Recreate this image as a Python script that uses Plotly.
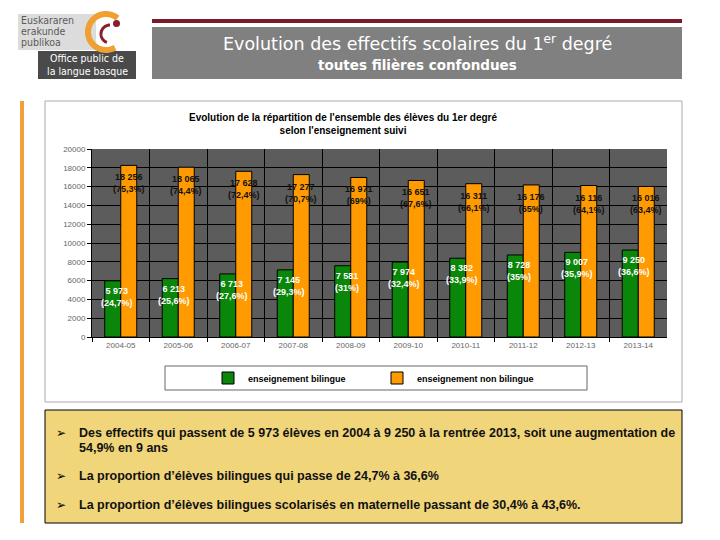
import math
import plotly.graph_objects as go

# ---------------- data ----------------
categories = ["2004-05", "2005-06", "2006-07", "2007-08", "2008-09",
              "2009-10", "2010-11", "2011-12", "2012-13", "2013-14"]
bilingue = [5973, 6213, 6713, 7145, 7581, 7974, 8382, 8728, 9007, 9250]
non_bilingue = [18256, 18065, 17628, 17277, 16971, 16651, 16311, 16176, 16116, 16016]
pct_bilingue = ["24,7%", "25,6%", "27,6%", "29,3%", "31%",
                "32,4%", "33,9%", "35%", "35,9%", "36,6%"]
pct_non_bilingue = ["75,3%", "74,4%", "72,4%", "70,7%", "69%",
                    "67,6%", "66,1%", "65%", "64,1%", "63,4%"]
y_ticks = [0, 2000, 4000, 6000, 8000, 10000, 12000, 14000, 16000, 18000, 20000]

bullet_lines = [
    ("Des effectifs qui passent de 5 973 élèves en 2004 à 9 250 à la rentrée 2013, soit une augmentation de", True),
    ("54,9% en 9 ans", False),
    ("La proportion d’élèves bilingues qui passe de 24,7% à 36,6%", True),
    ("La proportion d’élèves bilingues scolarisés en maternelle passant de 30,4% à 43,6%.", True),
]
bullet_y = [433, 448, 476, 505]

# page body has an 8px margin: figure is drawn 8px in from the window corner
OFF = 8
W, H = 720 - 2 * OFF, 540 - 2 * OFF


def X(px):
    return (px - OFF) / W


def Y(py):
    return 1 - (py - OFF) / H


def fmt(v):
    return f"{v:,}".replace(",", " ")


GREEN = "#0a870a"
ORANGE = "#ff9a00"
FONT = "Liberation Sans, Arial, sans-serif"
HFONT = "DejaVu Sans, sans-serif"
LFONT = "DejaVu Sans Condensed, DejaVu Sans, sans-serif"

fig = go.Figure()
fig.add_trace(go.Bar(x=categories, y=bilingue, name="<b>enseignement bilingue</b>",
                     marker=dict(color=GREEN, line=dict(color="black", width=1))))
fig.add_trace(go.Bar(x=categories, y=non_bilingue, name="<b>enseignement non bilingue</b>",
                     marker=dict(color=ORANGE, line=dict(color="black", width=1))))

annotations = []
for c, v, p in zip(categories, non_bilingue, pct_non_bilingue):
    annotations.append(dict(x=c, y=v, xref="x", yref="y", text=f"<b>{fmt(v)}<br>({p})</b>",
                            showarrow=False, xshift=8, yshift=-5, yanchor="top",
                            font=dict(family=FONT, size=9, color="#111111")))
for c, v, p in zip(categories, bilingue, pct_bilingue):
    annotations.append(dict(x=c, y=v, xref="x", yref="y", text=f"<b>{fmt(v)}<br>({p})</b>",
                            showarrow=False, xshift=-4, yshift=-3, yanchor="top",
                            font=dict(family=FONT, size=9, color="white")))

# chart title
annotations.append(dict(x=X(343), y=Y(124), xref="paper", yref="paper",
                        text="<b>Evolution de la répartition de l'ensemble des élèves du 1er degré<br>selon l'enseignement suivi</b>",
                        showarrow=False, align="center", xanchor="center", yanchor="middle",
                        font=dict(family=FONT, size=10, color="black")))

# header title
annotations.append(dict(x=X(417), y=Y(43), xref="paper", yref="paper",
                        text="Evolution des effectifs scolaires du 1<sup>er</sup> degré",
                        showarrow=False, xanchor="center", yanchor="middle",
                        font=dict(family=HFONT, size=17.5, color="white")))
annotations.append(dict(x=X(417), y=Y(65), xref="paper", yref="paper",
                        text="<b>toutes filières confondues</b>",
                        showarrow=False, xanchor="center", yanchor="middle",
                        font=dict(family=HFONT, size=13.5, color="white")))

# logo text
for i, t in enumerate(["Euskararen", "erakunde", "publikoa"]):
    annotations.append(dict(x=X(19), y=Y(20 + 11 * i), xref="paper", yref="paper", text=t,
                            showarrow=False, xanchor="left", yanchor="middle",
                            font=dict(family=LFONT, size=10.5, color="#5a5a5a")))
for i, t in enumerate(["Office public de", "la langue basque"]):
    annotations.append(dict(x=X(87), y=Y(58 + 13 * i), xref="paper", yref="paper", text=t,
                            showarrow=False, xanchor="center", yanchor="middle",
                            font=dict(family=LFONT, size=10.5, color="white")))

# bullet text
for (t, has_bullet), by in zip(bullet_lines, bullet_y):
    if has_bullet:
        annotations.append(dict(x=X(54), y=Y(by), xref="paper", yref="paper",
                                text="➢", showarrow=False, xanchor="left", yanchor="middle",
                                font=dict(family="DejaVu Sans", size=12, color="black")))
    annotations.append(dict(x=X(77), y=Y(by), xref="paper", yref="paper", text=f"<b>{t}</b>",
                            showarrow=False, xanchor="left", yanchor="middle", align="left",
                            font=dict(family=FONT, size=12.5, color="#111111")))

shapes = [
    # maroon line
    dict(type="rect", xref="paper", yref="paper", x0=X(152), x1=X(682), y0=Y(19), y1=Y(23),
         fillcolor="#7a1a2c", line=dict(width=0)),
    # gray title box
    dict(type="rect", xref="paper", yref="paper", x0=X(152), x1=X(682), y0=Y(27), y1=Y(79),
         fillcolor="#808080", line=dict(width=0)),
    # logo boxes
    dict(type="rect", xref="paper", yref="paper", x0=X(18), x1=X(96), y0=Y(14), y1=Y(50),
         fillcolor="#dcdcdc", line=dict(width=0)),
    dict(type="rect", xref="paper", yref="paper", x0=X(38), x1=X(136), y0=Y(51), y1=Y(79),
         fillcolor="#4a4a4a", line=dict(width=0)),
    # orange vertical bar
    dict(type="rect", xref="paper", yref="paper", x0=X(20), x1=X(24), y0=Y(101), y1=Y(523),
         fillcolor="#f2a03c", line=dict(width=0)),
    # chart outer box
    dict(type="rect", xref="paper", yref="paper", x0=X(45), x1=X(682), y0=Y(101), y1=Y(402),
         fillcolor="rgba(0,0,0,0)", line=dict(color="#aaaaaa", width=1)),
    # legend box
    dict(type="rect", xref="paper", yref="paper", x0=X(165), x1=X(587), y0=Y(366), y1=Y(390),
         fillcolor="white", line=dict(color="#666666", width=1)),
    # yellow box
    dict(type="rect", xref="paper", yref="paper", x0=X(45), x1=X(682), y0=Y(410), y1=Y(523),
         fillcolor="#f0d57a", line=dict(color="black", width=1)),
]


def arc(cx, cy, r, a0, a1, n=40):
    pts = []
    for k in range(n + 1):
        t = math.radians(a0 + (a1 - a0) * k / n)
        pts.append((X(cx + r * math.cos(t)), Y(cy - r * math.sin(t))))
    return "M " + " L ".join(f"{a:.5f},{b:.5f}" for a, b in pts)


shapes.append(dict(type="path", xref="paper", yref="paper", path=arc(106, 32, 18, 50, 300),
                   line=dict(color="#f0a030", width=6)))
shapes.append(dict(type="path", xref="paper", yref="paper", path=arc(110, 34, 9, 90, 250),
                   line=dict(color="#8b1c2c", width=3)))
shapes.append(dict(type="circle", xref="paper", yref="paper", x0=X(113), x1=X(120), y0=Y(20), y1=Y(27),
                   fillcolor="#8b1c2c", line=dict(width=0)))

fig.update_layout(
    width=W, height=H,
    margin=dict(l=0, r=0, t=0, b=0),
    paper_bgcolor="white",
    plot_bgcolor="#5c5c5c",
    barmode="group", bargap=0.443, bargroupgap=0,
    showlegend=True,
    legend=dict(orientation="h", x=X(208), y=Y(378), xanchor="left", yanchor="middle",
                bgcolor="rgba(0,0,0,0)", entrywidth=124, entrywidthmode="pixels",
                itemwidth=30, traceorder="normal",
                font=dict(family=FONT, size=9, color="black")),
    xaxis=dict(domain=[X(92), X(667)], type="category", tickson="boundaries",
               showgrid=True, gridcolor="black", gridwidth=1,
               ticks="outside", ticklen=4, tickcolor="black",
               showline=True, linecolor="black", linewidth=1,
               tickfont=dict(family=FONT, size=8, color="#666666"), automargin=False),
    yaxis=dict(domain=[Y(337), Y(149)], range=[0, 20000], tickvals=y_ticks,
               ticktext=[str(v) for v in y_ticks],
               showgrid=True, gridcolor="black", gridwidth=1, zeroline=False,
               ticks="outside", ticklen=4, tickcolor="black",
               showline=True, linecolor="black", linewidth=1,
               tickfont=dict(family=FONT, size=8, color="#666666"), automargin=False),
    annotations=annotations,
    shapes=shapes,
)

fig.write_html("out.html")
